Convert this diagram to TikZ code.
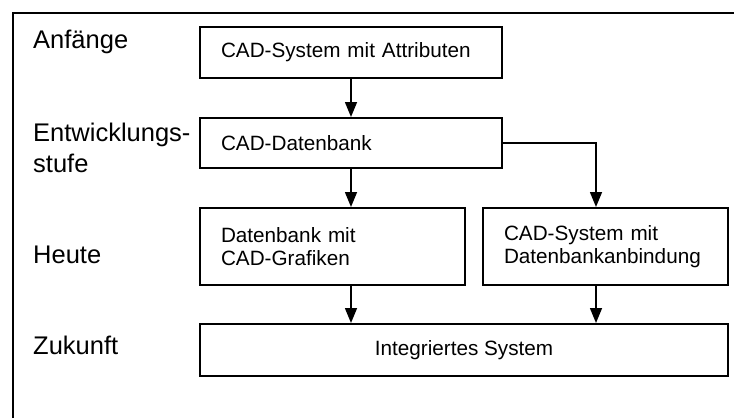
\documentclass[tikz,border=0pt]{standalone}
\usepackage{fontspec}
\setmainfont{Liberation Sans}
\usetikzlibrary{arrows.meta,calc}
\begin{document}
\begin{tikzpicture}[x=1pt,y=-1pt,
 box/.style={draw, line width=2pt, inner xsep=21pt, inner ysep=0pt, font=\fontsize{20.7}{23}\selectfont, align=left},
 lab/.style={inner sep=0pt, anchor=base west, font=\fontsize{25.5}{31}\selectfont, align=left},
 arr/.style={line width=1.5pt, -{Triangle[length=15pt,width=12pt]}}]
\useasboundingbox (0,0) rectangle (734,418);
\draw[line width=2pt] (13,418) -- (13,13) -- (734,13);
% labels
\node[lab] (l1) at (33,48) {Anfänge};
\node[lab] (l2) at (33,172.5) {Entwicklungs-\\stufe};
\node[lab] (l3) at (33,263.5) {Heute};
\node[lab] (l4) at (33,354) {Zukunft};
% boxes
\node[box, text width=260pt, minimum height=51pt] (b1) at (351,52.5) {CAD-System mit Attributen};
\node[box, text width=260pt, minimum height=50pt] (b2) at (351,143) {CAD-Datenbank};
\node[box, text width=223pt, minimum height=77pt] (b3) at (332.5,246.5) {Datenbank mit\\CAD-Grafiken};
\node[box, text width=203pt, minimum height=77pt] (b4) at (605.5,246.5) {CAD-System mit\\Datenbankanbindung};
\node[box, minimum width=528pt, minimum height=52pt, align=center] (b5) at (464,350) {Integriertes System};
% connectors
\coordinate (xr) at (596,0);
\coordinate (xl) at (351,0);
\draw[arr] (b1.south) -- (b2.north);
\draw[arr] (b2.south) -- (xl |- b3.north);
\draw[arr] (b2.east) -| (xr |- b4.north);
\draw[arr] (xl |- b3.south) -- (xl |- b5.north);
\draw[arr] (xr |- b4.south) -- (xr |- b5.north);
\end{tikzpicture}
\end{document}
